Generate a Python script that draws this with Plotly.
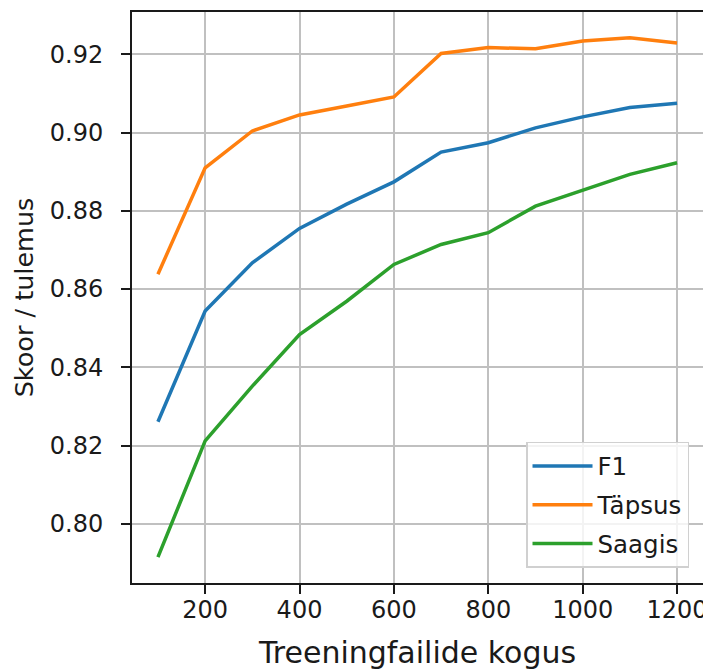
import plotly.graph_objects as go

train_sizes = [100, 200, 300, 400, 500, 600, 700, 800, 900, 1000, 1100, 1200]
f1_scores = [0.8261, 0.8544, 0.8667, 0.8755, 0.8817, 0.8874, 0.8950, 0.8974, 0.9012, 0.9040, 0.9064, 0.9075]
precision_scores = [0.8638, 0.8910, 0.9004, 0.9045, 0.9068, 0.9091, 0.9202, 0.9217, 0.9214, 0.9234, 0.9242, 0.9229]
recall_scores = [0.7915, 0.8212, 0.8352, 0.8484, 0.8569, 0.8663, 0.8714, 0.8744, 0.8812, 0.8852, 0.8893, 0.8923]

series_names = ["F1", "Täpsus", "Saagis"]
series_values = [f1_scores, precision_scores, recall_scores]
series_colors = ["#1f77b4", "#ff7f0e", "#2ca02c"]

x_ticks = [200, 400, 600, 800, 1000, 1200]
y_ticks = [0.80, 0.82, 0.84, 0.86, 0.88, 0.90, 0.92]
y_tick_labels = ["0.80", "0.82", "0.84", "0.86", "0.88", "0.90", "0.92"]

x_title = "Treeningfailide kogus"
y_title = "Skoor / tulemus"

FONT = "DejaVu Sans"

fig = go.Figure()
for i, (name, vals, col) in enumerate(zip(series_names, series_values, series_colors)):
    fig.add_trace(go.Scatter(
        x=train_sizes, y=vals, mode="lines", name=name,
        line=dict(color=col, width=3.5),
        legendgroup=f"g{i}",
    ))

# page body has an 8px margin: the figure is placed at (8, 8)
fig.update_layout(
    width=703, height=662,
    margin=dict(l=124, r=8, t=4, b=87),
    paper_bgcolor="white", plot_bgcolor="white",
    font=dict(family=FONT, size=24, color="#1a1a1a"),
    showlegend=True,
    legend=dict(
        x=0.9755, y=0.0263, xanchor="right", yanchor="bottom",
        bgcolor="rgba(255,255,255,0.8)", bordercolor="#d0d0d0", borderwidth=1.5,
        font=dict(family=FONT, size=24.5, color="#1a1a1a"),
        tracegroupgap=4,
        itemwidth=60,
    ),
)

fig.update_xaxes(
    range=[45, 1255],
    tickvals=x_ticks,
    automargin=False,
    ticks="outside", ticklen=9, tickwidth=2, tickcolor="#1a1a1a",
    showline=True, linecolor="#1a1a1a", linewidth=2, mirror=True,
    showgrid=True, gridcolor="#c0c0c0", gridwidth=2,
    zeroline=False,
    tickfont=dict(family=FONT, size=24),
    ticklabelstandoff=-5,
    title=dict(text=x_title, font=dict(family=FONT, size=30), standoff=21),
)
fig.update_yaxes(
    range=[0.7849, 0.9308],
    tickvals=y_ticks, ticktext=y_tick_labels,
    automargin=False,
    ticks="outside", ticklen=9, tickwidth=2, tickcolor="#1a1a1a",
    showline=True, linecolor="#1a1a1a", linewidth=2, mirror=True,
    showgrid=True, gridcolor="#c0c0c0", gridwidth=2,
    zeroline=False,
    tickfont=dict(family=FONT, size=24),
    ticklabelstandoff=13,
    title=dict(text=y_title, font=dict(family=FONT, size=25.5), standoff=9),
)

fig.write_html("out.html")
